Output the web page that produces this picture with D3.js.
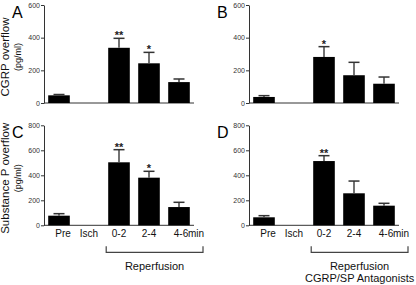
<!DOCTYPE html>
<html><head><meta charset="utf-8">
<script src="https://cdn.jsdelivr.net/npm/d3@7"></script>
<style>
body{margin:0;background:#fff;}
svg{display:block;font-family:"Liberation Sans",Arial,sans-serif;}
</style></head><body>
<svg id="c" width="416" height="285"></svg>
<script>
const categories = ["Pre","Isch","0-2","2-4","4-6"];
const meanA = [47, null, 338, 243, 128];
const semA  = [5, null, 58, 67, 19];
const meanB = [37, null, 282, 170, 118];
const semB  = [8, null, 63, 79, 41];
const meanC = [77, null, 504, 381, 146];
const semC  = [16, null, 101, 51, 38];
const meanD = [64, null, 514, 256, 157];
const semD  = [13, null, 43, 98, 19];
const starsA = ["", "", "**", "*", ""];
const starsB = ["", "", "*", "", ""];
const starsC = ["", "", "**", "*", ""];
const starsD = ["", "", "**", "", ""];
const topTicks = [0, 200, 400, 600];
const bottomTicks = [0, 200, 400, 600, 800];

const svg = d3.select("#c");

function panel(opt){
  const g = svg.append("g");
  const x = d3.scaleBand().domain(categories).range([opt.x0, opt.x0+150]).paddingInner(0.28).paddingOuter(0.14);
  const y = d3.scaleLinear().domain([0, opt.max]).range([opt.y0, opt.y1]);
  const ya = g.append("g").attr("transform",`translate(${opt.x0},0)`)
    .call(d3.axisLeft(y).tickValues(opt.ticks).tickSize(3).tickPadding(1).tickSizeOuter(0));
  ya.select(".domain").attr("stroke","#333");
  ya.selectAll(".tick line").attr("stroke","#333");
  ya.selectAll("text").attr("font-size",7).attr("fill","#333").attr("font-family","Liberation Sans, Arial, sans-serif");
  g.append("line").attr("x1",opt.x0).attr("x2",opt.x0+150).attr("y1",y(0)).attr("y2",y(0)).attr("stroke","#333").attr("stroke-width",1);
  const data = categories.map((c,i)=>({c, m:opt.mean[i], s:opt.sem[i], st:opt.stars[i]})).filter(d=>d.m!==null);
  g.selectAll("rect.bar").data(data).join("rect").attr("class","bar")
    .attr("x",d=>x(d.c)).attr("width",x.bandwidth())
    .attr("y",d=>y(d.m)).attr("height",d=>y(0)-y(d.m)).attr("fill","#000");
  g.selectAll("line.eb").data(data).join("line").attr("class","eb")
    .attr("x1",d=>x(d.c)+x.bandwidth()/2).attr("x2",d=>x(d.c)+x.bandwidth()/2)
    .attr("y1",d=>y(d.m)).attr("y2",d=>y(d.m+d.s)).attr("stroke","#444").attr("stroke-width",1.5);
  g.selectAll("line.cap").data(data).join("line").attr("class","cap")
    .attr("x1",d=>x(d.c)+x.bandwidth()/2-5.5).attr("x2",d=>x(d.c)+x.bandwidth()/2+5.5)
    .attr("y1",d=>y(d.m+d.s)).attr("y2",d=>y(d.m+d.s)).attr("stroke","#333").attr("stroke-width",1.5);
  g.selectAll("text.st").data(data.filter(d=>d.st)).join("text").attr("class","st")
    .attr("x",d=>x(d.c)+x.bandwidth()/2).attr("y",d=>y(d.m+d.s)+1)
    .attr("text-anchor","middle").attr("font-size",11).attr("font-weight","bold").attr("fill","#222").text(d=>d.st);
  g.append("text").attr("x",opt.x0-32).attr("y",opt.y1+13).attr("font-size",16).attr("fill","#000").text(opt.letter);
  if(opt.ylabel){
    const cy = (opt.y0+opt.y1)/2 + 3;
    g.append("text").attr("transform",`translate(${opt.x0-35},${cy}) rotate(-90)`).attr("text-anchor","middle")
      .attr("font-size",11.5).attr("fill","#111").text(opt.ylabel);
    g.append("text").attr("transform",`translate(${opt.x0-23},${cy}) rotate(-90)`).attr("text-anchor","middle")
      .attr("font-size",9).attr("fill","#111").text("(pg/ml)");
  }
  if(opt.xlabels){
    const by = y(0);
    categories.forEach((c,i)=>{
      const cx = x(c)+x.bandwidth()/2 + (i===0?4:0) + (i===4?2:0);
      g.append("text").attr("x",cx).attr("y",by+12).attr("text-anchor","middle").attr("font-size",10).attr("fill","#111").text(c);
    });
    g.append("text").attr("x",x("4-6")+x.bandwidth()/2+9).attr("y",by+12).attr("font-size",10).attr("fill","#111").text("min");
    const bx1 = x("0-2")-2, bx2 = opt.x0+159;
    g.append("path").attr("d",`M${bx1},${by+21}V${by+27}H${bx2}V${by+21}`).attr("fill","none").attr("stroke","#444").attr("stroke-width",1.2);
    const mid = (bx1+bx2)/2;
    opt.xlabels.forEach((t,i)=>{
      g.append("text").attr("x",mid).attr("y",by+45+i*12).attr("text-anchor","middle").attr("font-size",11).attr("fill","#111").text(t);
    });
  }
}
panel({x0:44, y0:103, y1:5, max:600, ticks:topTicks, mean:meanA, sem:semA, stars:starsA, letter:"A", ylabel:"CGRP overflow"});
panel({x0:249, y0:103, y1:5, max:600, ticks:topTicks, mean:meanB, sem:semB, stars:starsB, letter:"B"});
panel({x0:44, y0:225.3, y1:125.3, max:800, ticks:bottomTicks, mean:meanC, sem:semC, stars:starsC, letter:"C", ylabel:"Substance P overflow", xlabels:["Reperfusion"]});
panel({x0:249, y0:225.3, y1:125.3, max:800, ticks:bottomTicks, mean:meanD, sem:semD, stars:starsD, letter:"D", xlabels:["Reperfusion","CGRP/SP Antagonists"]});
</script>
</body></html>
